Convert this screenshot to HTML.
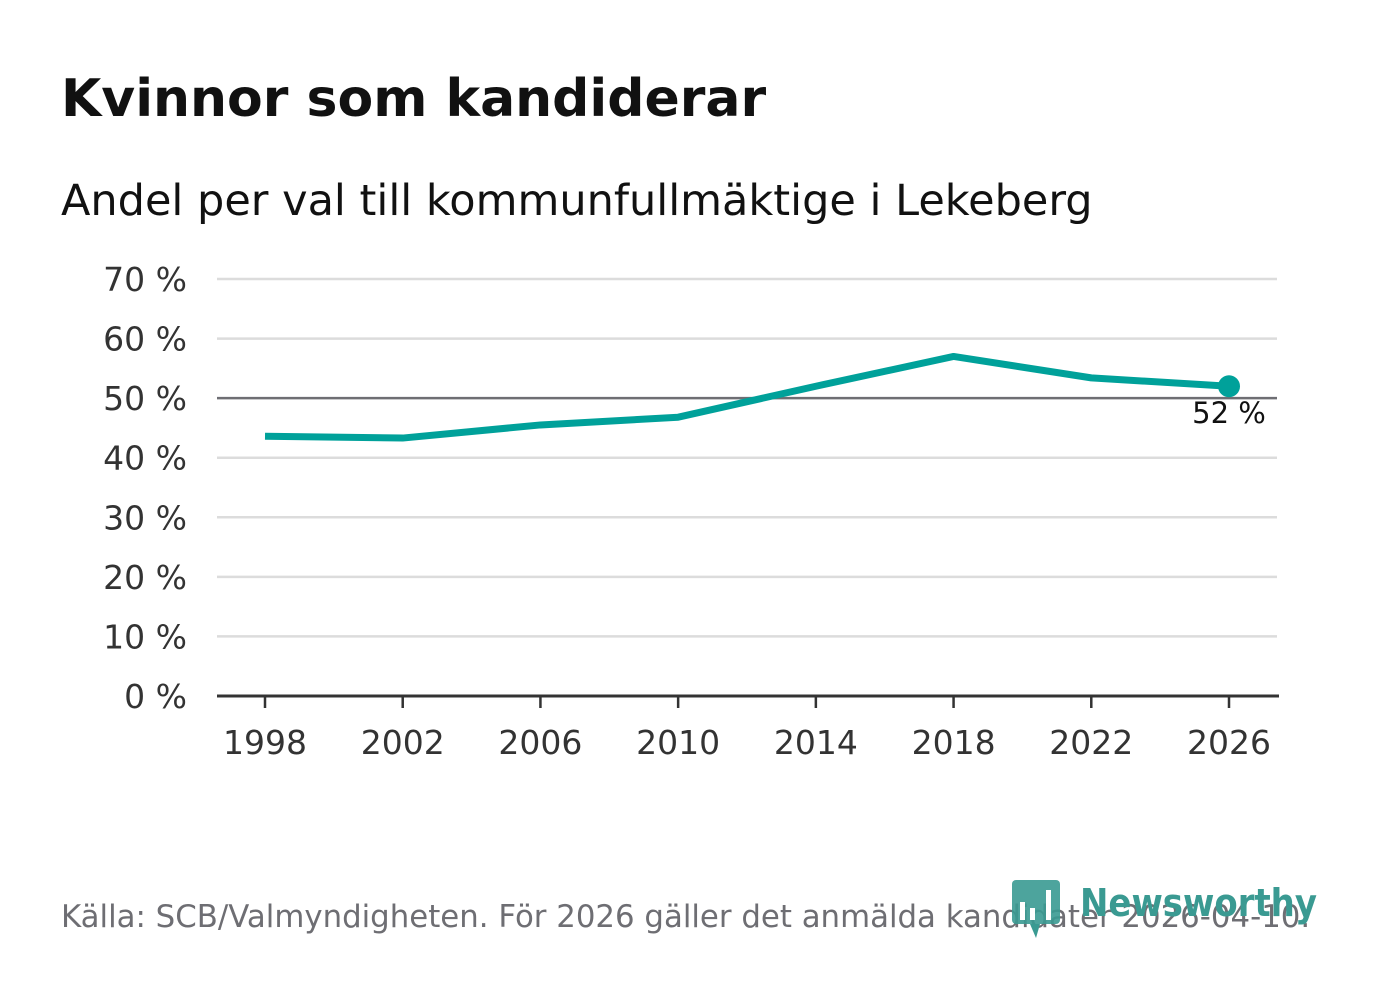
<!DOCTYPE html>
<html><head><meta charset="utf-8"><style>
body{margin:0;width:1382px;height:999px;background:#fff;font-family:"DejaVu Sans","Liberation Sans",sans-serif;overflow:hidden;position:relative}
.t{position:absolute;white-space:nowrap}
</style></head><body>
<div class="t" style="left:61px;top:69px;font-size:52px;font-weight:bold;color:#111">Kvinnor som kandiderar</div>
<div class="t" style="left:61px;top:176px;font-size:43px;color:#111">Andel per val till kommunfullmäktige i Lekeberg</div>
<svg id="c" width="1382" height="999" style="position:absolute;left:0;top:0"></svg>
<div class="t" style="left:61px;top:899px;font-size:30.8px;color:#6e6e73">Källa: SCB/Valmyndigheten. För 2026 gäller det anmälda kandidater 2026-04-10.</div>
<svg width="330" height="70" style="position:absolute;left:1010px;top:878px">
<rect x="2" y="2" width="48" height="44" rx="4" fill="#3a9a92" opacity="0.9"/>
<polygon points="20,46 30,46 26,60" fill="#3a9a92"/>
<rect x="10" y="24" width="5" height="18" fill="#fff"/><rect x="20" y="30" width="5" height="12" fill="#fff"/><rect x="36" y="12" width="5" height="30" fill="#fff"/>
<text x="70" y="38" font-family="DejaVu Sans,sans-serif" font-size="38" font-weight="bold" fill="#3a9a92" textLength="237" lengthAdjust="spacingAndGlyphs">Newsworthy</text>
</svg>
<script>
const years=[1998,2002,2006,2010,2014,2018,2022,2026];
const values=[43.6,43.3,45.5,46.8,52.0,57.0,53.4,52.0];
const yTicks=[0,10,20,30,40,50,60,70];
const lastLabel="52 %";
const svg=document.getElementById('c');const NS='http://www.w3.org/2000/svg';
const x=v=>265+(v-1998)*(1229-265)/28;
const y=v=>696-v*(696-279)/70;
function mk(t,a){const e=document.createElementNS(NS,t);for(const k in a)e.setAttribute(k,a[k]);svg.appendChild(e);return e;}
yTicks.forEach(v=>{
 if(v>0){const l=mk('line',{x1:217,x2:1277,y1:y(v),y2:y(v),stroke:v==50?'#6e6e73':'#dcdcdc','stroke-width':2.5});
 }
 const t=mk('text',{x:187,y:y(v)+12,'text-anchor':'end','font-size':33,fill:'#333','font-family':'DejaVu Sans,sans-serif'});t.textContent=v+' %';
 
});
const ax=mk('line',{x1:217,x2:1279,y1:696,y2:696,stroke:'#333','stroke-width':3});

years.forEach(yr=>{
 const tk=mk('line',{x1:x(yr),x2:x(yr),y1:696,y2:708,stroke:'#333','stroke-width':2.5});
 
 const t=mk('text',{x:x(yr),y:754,'text-anchor':'middle','font-size':33,fill:'#333','font-family':'DejaVu Sans,sans-serif'});t.textContent=yr;
 
});
const p=mk('polyline',{points:years.map((yr,i)=>x(yr)+','+y(values[i])).join(' '),fill:'none',stroke:'#00a19a','stroke-width':7,'stroke-linejoin':'round'});

const n=years.length-1;
const d=mk('circle',{cx:x(years[n]),cy:y(values[n]),r:11,fill:'#00a19a'});

const lt=mk('text',{x:x(years[n]),y:y(values[n])+37,'text-anchor':'middle','font-size':29,fill:'#111','font-family':'DejaVu Sans,sans-serif'});lt.textContent=lastLabel;

</script>
</body></html>
